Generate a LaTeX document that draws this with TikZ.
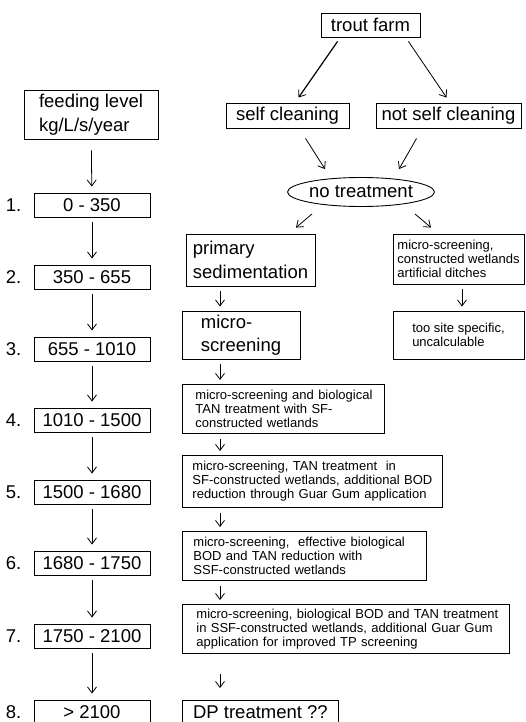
\documentclass[tikz,border=0pt]{standalone}
\usepackage{fontspec}
\setmainfont{Liberation Sans}
\usetikzlibrary{arrows.meta,shapes.geometric,calc}
\begin{document}
\begin{tikzpicture}[x=1pt,y=-1pt,
  every node/.style={inner sep=0pt},
  big/.style={font=\fontsize{18.5}{23.5}\selectfont},
  small/.style={font=\fontsize{13}{14}\selectfont},
  box/.style={draw, line width=0.9pt},
  arr/.style={line width=0.8pt, -{Straight Barb[length=6pt,width=9pt,line width=0.8pt]}},
  num/.style={big, anchor=east},
  lbox/.style={box, big, minimum width=116, minimum height=24},
  rbox/.style={box, small, anchor=north west, align=left},
  larr/.style={arr, shorten <=5pt, shorten >=6pt},
  rarr/.style={arr, shorten <=5pt, shorten >=4pt}
]
\useasboundingbox (0,0) rectangle (525,722);
\clip (0,0) rectangle (525,722);

% top part
\node[box,big,minimum width=99,minimum height=24] (trout) at (370.5,25) {trout farm};
\node[box,big,minimum width=123,minimum height=25] (self) at (287.5,115.5) {self cleaning};
\node[box,big,minimum width=145,minimum height=25] (notself) at (448.5,115.5) {not self cleaning};
\node[draw,ellipse,line width=0.9pt,big,minimum width=137,minimum height=29] (none) at (361,192) {no treatment};
\node[box,big,align=left,minimum width=129,minimum height=52] (prim) at (250.5,260) {primary\\sedimentation};
\node[box,small,align=left,minimum width=131,minimum height=50] (cw) at (458.5,259) {micro-screening,\\constructed wetlands\\artificial ditches};
\node[box,small,align=left,minimum width=131,minimum height=48] (site) at (458.5,335) {too site specific,\\uncalculable};
\node[box,big,align=left,minimum width=118,minimum height=48] (micro) at (241,335) {micro-\\screening};

\node[rbox,text width=176,inner xsep=13,minimum height=49] (b4) at (182,384)
  {\mbox{micro-screening and biological}\\\mbox{TAN treatment with SF-}\\\mbox{constructed wetlands}};
\node[rbox,text width=240,inner xsep=10,minimum height=52] (b5) at (182,455)
  {\mbox{micro-screening, TAN treatment\ \ in}\\\mbox{SF-constructed wetlands, additional BOD}\\\mbox{reduction through Guar Gum application}};
\node[rbox,text width=222,inner xsep=11,minimum height=49] (b6) at (182,531)
  {\mbox{micro-screening,\ \ effective biological}\\\mbox{BOD and TAN reduction with}\\\mbox{SSF-constructed wetlands}};
\node[rbox,text width=299,inner xsep=14,minimum height=49] (b7) at (182,604)
  {\mbox{micro-screening, biological BOD and TAN treatment}\\\mbox{in SSF-constructed wetlands, additional Guar Gum}\\\mbox{application for improved TP screening}};
\node[box,big,anchor=north west,minimum width=156,minimum height=24] (dp) at (182,700) {DP treatment ??};

% left column
\node[box,big,align=left,minimum width=134,minimum height=49] (feed) at (91,114.5) {feeding level\\kg/L/s/year};
\node[lbox] (L1) at (92,205) {0 - 350};
\node[lbox] (L2) at (92,277) {350 - 655};
\node[lbox] (L3) at (92,349) {655 - 1010};
\node[lbox] (L4) at (92,420) {1010 - 1500};
\node[lbox] (L5) at (92,492) {1500 - 1680};
\node[lbox] (L6) at (92,563) {1680 - 1750};
\node[lbox] (L7) at (92,636) {1750 - 2100};
\node[lbox] (L8) at (92,712) {> 2100};
\foreach \i in {1,...,8} {
  \node[num] (n\i) at ($(L\i.west)+(-12,0)$) {\i.};
}

% left arrows
\draw[arr, shorten <=11pt, shorten >=6pt] (feed) -- (L1);
\draw[larr] (L1) -- (L2);
\draw[larr] (L2) -- (L3);
\draw[larr] (L3) -- (L4);
\draw[larr] (L4) -- (L5);
\draw[larr] (L5) -- (L6);
\draw[larr] (L6) -- (L7);
\draw[larr] (L7) -- (L8);

% top arrows
\draw[arr, line width=1.2pt] ($(trout.south west)+(17,4)$) -- ($(self.north west)+(73,-5)$);
\draw[arr] ($(trout.south east)+(-12,4)$) -- ($(notself.north west)+(71,-5)$);
\draw[arr] ($(self.south west)+(80,10)$) -- ($(none.north)+(-36,-8)$);
\draw[arr] ($(notself.south west)+(41,10)$) -- ($(none.north)+(38,-8)$);
\draw[arr] ($(none.south)+(-49,7)$) -- ($(prim.north)+(45.5,-6)$);
\draw[arr] ($(none.south)+(54,7)$) -- ($(cw.north)+(-27.5,-6)$);

% right column arrows
\coordinate (ax) at (220,0);
\coordinate (bx) at (462,0);
\draw[rarr] (bx |- cw.south) -- (bx |- site.north);
\draw[rarr] (ax |- prim.south) -- (ax |- micro.north);
\draw[rarr] (ax |- micro.south) -- (ax |- b4.north);
\draw[rarr] (ax |- b4.south) -- (ax |- b5.north);
\draw[rarr] (ax |- b5.south) -- (ax |- b6.north);
\draw[rarr] (ax |- b6.south) -- (ax |- b7.north);
\draw[arr, shorten <=20pt, shorten >=12pt] (ax |- b7.south) -- (ax |- dp.north);
\end{tikzpicture}
\end{document}
